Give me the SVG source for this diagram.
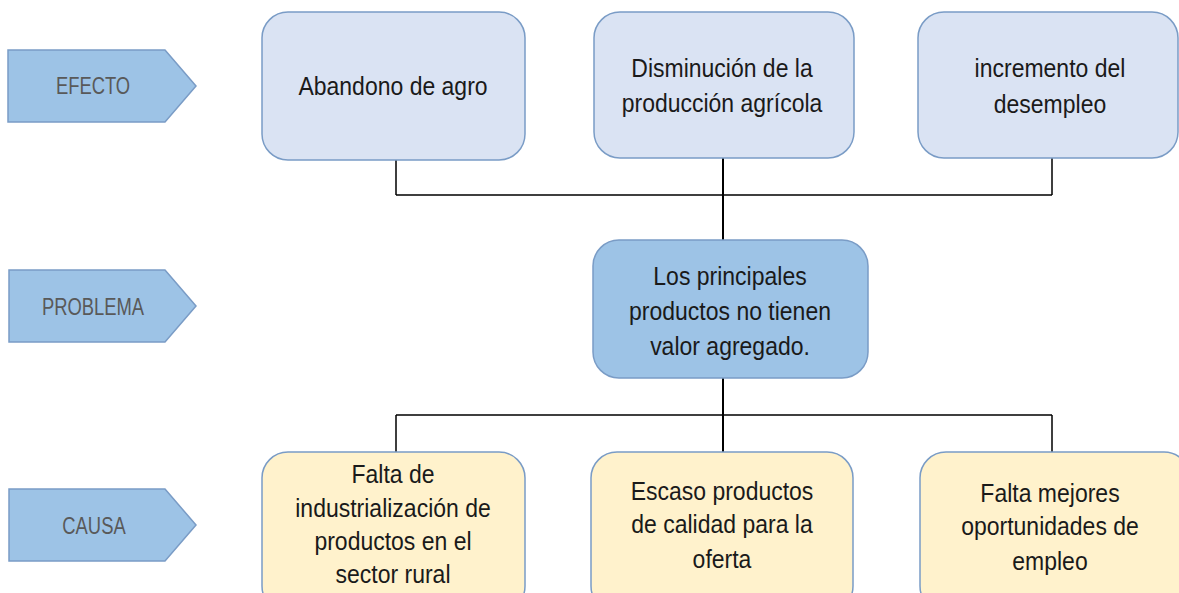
<svg xmlns="http://www.w3.org/2000/svg" width="1179" height="593" viewBox="0 0 1179 593">
<style>
.tag{fill:#9dc3e6;stroke:#7a9cc6;stroke-width:1.5}
.tagt{font-family:"Liberation Sans",Arial,sans-serif;font-size:20px;fill:#595959;text-anchor:middle}
.eff{fill:#dae3f3;stroke:#7a9cc6;stroke-width:1.5}
.prob{fill:#9dc3e6;stroke:#7a9cc6;stroke-width:1.5}
.cau{fill:#fff2cc;stroke:#7a9cc6;stroke-width:1.5}
.t{font-family:"Liberation Sans",Arial,sans-serif;font-size:23px;fill:#1a1a1a;text-anchor:middle}
.c{fill:none;stroke:#000;stroke-width:1.5}
</style>
<g id="connectors">
<path class="c" d="M396 160 V195 M1052 158 V195 M396 195 H1052"/>
<path class="c" d="M723 158 V240" style="stroke-width:2"/>
<path class="c" d="M723 378 V452" style="stroke-width:2"/>
<path class="c" d="M396 415 H1052 M396 415 V452 M1052 415 V452"/>
</g>
<g id="efecto-label">
<polygon class="tag" points="8,50 165,50 196,86 165,122 8,122"/>
<text class="tagt" transform="translate(93,94) scale(0.92,1.15)">EFECTO</text>
</g>
<g id="problema-label">
<polygon class="tag" points="9,270 165,270 196,306 165,342 9,342"/>
<text class="tagt" transform="translate(93,315) scale(0.92,1.15)">PROBLEMA</text>
</g>
<g id="causa-label">
<polygon class="tag" points="9,489 165,489 196,525 165,561 9,561"/>
<text class="tagt" transform="translate(94,534) scale(0.92,1.15)">CAUSA</text>
</g>
<g id="efecto1">
<rect class="eff" x="262" y="12" width="263" height="148" rx="26"/>
<text class="t" transform="translate(393,95) scale(1,1.12)">Abandono de agro</text>
</g>
<g id="efecto2">
<rect class="eff" x="594" y="12" width="260" height="146" rx="26"/>
<text class="t" transform="translate(722,77) scale(1,1.12)">Disminución de la</text>
<text class="t" transform="translate(722,112) scale(1,1.12)">producción agrícola</text>
</g>
<g id="efecto3">
<rect class="eff" x="918" y="12" width="260" height="146" rx="26"/>
<text class="t" transform="translate(1050,77) scale(1,1.12)">incremento del</text>
<text class="t" transform="translate(1050,113) scale(1,1.12)">desempleo</text>
</g>
<g id="problema">
<rect class="prob" x="593" y="240" width="275" height="138" rx="26"/>
<text class="t" transform="translate(730,285) scale(1,1.12)">Los principales</text>
<text class="t" transform="translate(730,320) scale(1,1.12)">productos no tienen</text>
<text class="t" transform="translate(730,355) scale(1,1.12)">valor agregado.</text>
</g>
<g id="causa1">
<rect class="cau" x="262" y="452" width="263" height="160" rx="26"/>
<text class="t" transform="translate(393,483) scale(1,1.12)">Falta de</text>
<text class="t" transform="translate(393,517) scale(1,1.12)">industrialización de</text>
<text class="t" transform="translate(393,550) scale(1,1.12)">productos en el</text>
<text class="t" transform="translate(393,583) scale(1,1.12)">sector rural</text>
</g>
<g id="causa2">
<rect class="cau" x="591" y="452" width="262" height="160" rx="26"/>
<text class="t" transform="translate(722,500) scale(1,1.12)">Escaso productos</text>
<text class="t" transform="translate(722,533) scale(1,1.12)">de calidad para la</text>
<text class="t" transform="translate(722,568) scale(1,1.12)">oferta</text>
</g>
<g id="causa3">
<rect class="cau" x="920" y="452" width="270" height="160" rx="26"/>
<text class="t" transform="translate(1050,502) scale(1,1.12)">Falta mejores</text>
<text class="t" transform="translate(1050,535) scale(1,1.12)">oportunidades de</text>
<text class="t" transform="translate(1050,570) scale(1,1.12)">empleo</text>
</g>
</svg>
